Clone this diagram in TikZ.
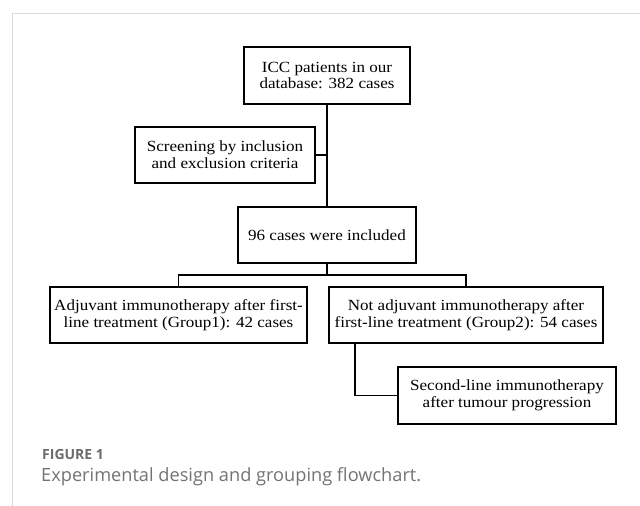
\documentclass[tikz,border=0pt]{standalone}
\usepackage{fontspec}
\newfontfamily\boxfont{Liberation Serif}[FakeStretch=1.1]
\newfontfamily\capfont{Open Sans}
\begin{document}
\begin{tikzpicture}[x=1pt,y=-1pt,
  flowbox/.style={draw=black,line width=2pt,rectangle,inner sep=0pt,align=center,
    font=\boxfont\fontsize{15.5}{16.7}\selectfont},
  conn/.style={draw=black,line width=1.3pt},
  frameline/.style={draw=black!15,line width=1pt}]
\useasboundingbox (0,0) rectangle (640,506);
\draw[frameline] (640,13) -- (12,13) -- (12,506);
\node[flowbox,minimum width=166pt,minimum height=57pt] (icc) at (327,75.5) {ICC patients in our\\database: 382 cases};
\node[flowbox,minimum width=180pt,minimum height=56pt] (screen) at (225,155) {Screening by inclusion\\and exclusion criteria};
\node[flowbox,minimum width=178pt,minimum height=56pt] (incl) at (327,235) {96 cases were included};
\node[flowbox,minimum width=257pt,minimum height=56pt] (g1) at (178.5,315) {Adjuvant immunotherapy after first-\\line treatment (Group1): 42 cases};
\node[flowbox,minimum width=274pt,minimum height=56pt] (g2) at (466,315) {Not adjuvant immunotherapy after\\first-line treatment (Group2): 54 cases};
\node[flowbox,minimum width=218pt,minimum height=57pt] (second) at (507,395.5) {Second-line immunotherapy\\after tumour progression};
\draw[conn] (icc.south) -- (incl.north);
\draw[conn] (screen.east) -- (screen.east -| icc.south);
\coordinate (split) at ([yshift=-11pt]incl.south);
\draw[conn] (incl.south) -- (split);
\draw[conn] (g1.north) |- (split) -| (g2.north);
\coordinate (branch) at ([xshift=27pt]g2.south west);
\draw[conn] (branch) |- (second.west);
\node[anchor=west,inner sep=0pt,text=black!58,font=\capfont\bfseries\fontsize{14}{16}\selectfont] (figlabel) at (42,454) {FIGURE 1};
\node[anchor=west,inner sep=0pt,text=black!55,font=\capfont\fontsize{18.2}{21}\selectfont] (caption) at (41,477) {Experimental design and grouping flowchart.};
\end{tikzpicture}
\end{document}
